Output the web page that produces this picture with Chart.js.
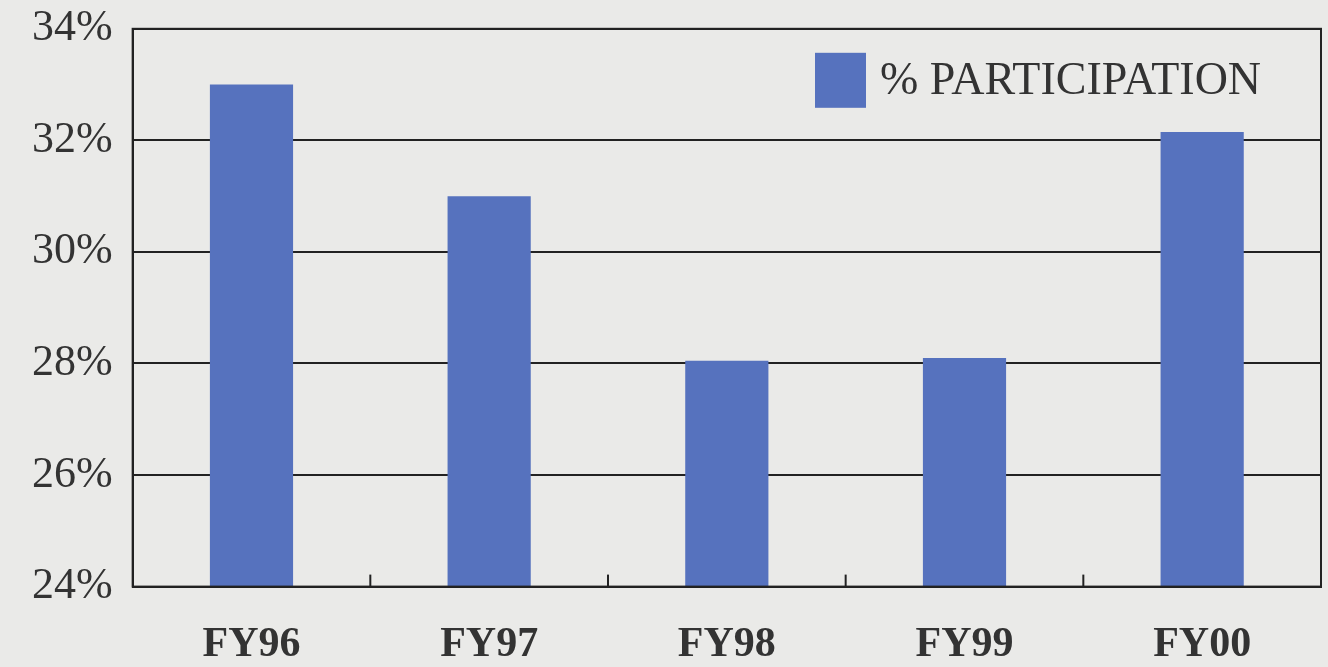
<!DOCTYPE html>
<html lang="en">
<head>
    <meta charset="UTF-8">
    <title>% Participation</title>
    <style>
        body {
            margin: 0;
            background-color: #eaeae8;
        }
        .chart-wrap {
            width: 1328px;
            height: 667px;
        }
    </style>
</head>
<body>
    <div class="chart-wrap">
        <canvas id="bar-chart" width="1328" height="667"></canvas>
    </div>

    <script src="https://cdn.jsdelivr.net/npm/chart.js"></script>
    <script>
        const years = ['FY96', 'FY97', 'FY98', 'FY99', 'FY00'];
        const participation = [33.0, 31.0, 28.05, 28.1, 32.15];
        const seriesName = '% PARTICIPATION';

        // frame round the plot, small ticks between categories, legend inside the plot
        const framePlugin = {
            id: 'frame',
            afterDraw(chart) {
                const { ctx, chartArea: a } = chart;
                const x = chart.scales.x;
                ctx.save();
                ctx.strokeStyle = '#222';
                ctx.lineWidth = 2;
                ctx.strokeRect(a.left, a.top, a.right - a.left, a.bottom - a.top);
                for (let i = 1; i < years.length; i++) {
                    const px = (x.getPixelForValue(i - 1) + x.getPixelForValue(i)) / 2;
                    ctx.beginPath();
                    ctx.moveTo(px, a.bottom);
                    ctx.lineTo(px, a.bottom - 12);
                    ctx.stroke();
                }
                // legend
                const ds = chart.data.datasets[0];
                ctx.fillStyle = ds.backgroundColor;
                ctx.fillRect(815, a.top + 24, 51, 55);
                ctx.fillStyle = '#333';
                ctx.font = '46px "Liberation Serif", serif';
                ctx.textBaseline = 'middle';
                ctx.fillText(ds.label, 880, a.top + 53);
                ctx.restore();
            }
        };

        const ctxBar = document.getElementById('bar-chart').getContext('2d');
        new Chart(ctxBar, {
            type: 'bar',
            data: {
                labels: years,
                datasets: [{
                    label: seriesName,
                    data: participation,
                    backgroundColor: '#5672be',
                    barPercentage: 0.35,
                    categoryPercentage: 1.0
                }]
            },
            options: {
                responsive: false,
                animation: false,
                layout: { padding: { top: 0, right: 7, bottom: -28, left: 12 } },
                plugins: {
                    tooltip: { enabled: false },
                    legend: { display: false }
                },
                scales: {
                    y: {
                        min: 24,
                        max: 34,
                        ticks: {
                            stepSize: 2,
                            padding: 20,
                            color: '#333',
                            font: { family: '"Liberation Serif", serif', size: 44, lineHeight: 0.4 },
                            callback: v => v + '%'
                        },
                        grid: { color: '#222', lineWidth: 2, drawTicks: false },
                        border: { color: '#222', width: 2 }
                    },
                    x: {
                        ticks: {
                            padding: 25,
                            color: '#333',
                            font: { family: '"Liberation Serif", serif', size: 42, weight: 'bold' }
                        },
                        grid: { display: false },
                        border: { color: '#222', width: 2 }
                    }
                }
            },
            plugins: [framePlugin]
        });
    </script>
</body>
</html>
